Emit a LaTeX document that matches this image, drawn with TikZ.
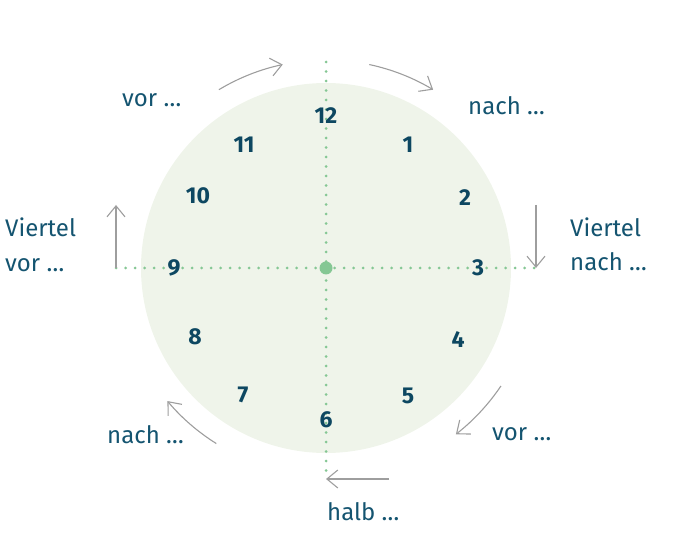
\documentclass[tikz,border=0pt]{standalone}
\usepackage{fontspec}
\setmainfont{Fira Sans}
\usepackage{tikz}
\usetikzlibrary{arrows.meta,calc,positioning}
\definecolor{clockface}{rgb}{0.937, 0.957, 0.918}
\definecolor{petrol}{rgb}{0.08, 0.33, 0.44}
\definecolor{deeppetrol}{rgb}{0.05, 0.28, 0.38}
\definecolor{mintdot}{rgb}{0.52, 0.78, 0.58}
\definecolor{arrowgray}{rgb}{0.62, 0.62, 0.62}
\tikzset{
  ziffer/.style={font=\fontsize{23}{26}\selectfont\bfseries, text=deeppetrol, inner sep=0pt},
  zeitwort/.style={font=\fontsize{24}{28}\selectfont, text=petrol, inner sep=0pt, anchor=base west},
  pfeil/.style={arrowgray, line width=1.1pt, -{Straight Barb[length=11pt,width=18pt]}},
  punkte/.style={mintdot, line width=3pt, line cap=round, dash pattern=on 0pt off 9.5pt}
}
\begin{document}
\begin{tikzpicture}[x=1pt,y=1pt]
        \useasboundingbox (0,0) rectangle (698,549);
        \coordinate (mitte) at (326,281);
        \fill[clockface] (mitte) circle (185);
        % dotted axes
        \coordinate (oben) at (326,487);
        \coordinate (unten) at (326,70);
        \coordinate (links) at (116,281);
        \coordinate (rechts) at (540,281);
        \draw[punkte] (oben) -- (unten);
        \draw[punkte] (links) -- (rechts);
        \fill[mintdot] (mitte) circle (6.5);
        % hours
        \node[ziffer] (h12) at (326,433) {12};
        \node[ziffer] (h1) at (408,404) {1};
        \node[ziffer] (h2) at (465,351) {2};
        \node[ziffer] (h3) at (478,281) {3};
        \node[ziffer] (h4) at (458,209) {4};
        \node[ziffer] (h5) at (408,153) {5};
        \node[ziffer] (h6) at (326,129) {6};
        \node[ziffer] (h7) at (243,154) {7};
        \node[ziffer] (h8) at (195,212) {8};
        \node[ziffer] (h9) at (174,281) {9};
        \node[ziffer] (h10) at (198,353) {10};
        \node[ziffer] (h11) at (244,404) {11};
        % labels
        \node[zeitwort] (vorOben) at (122,442) {vor …};
        \node[zeitwort] (nachOben) at (468,434) {nach …};
        \node[zeitwort] (viertelL) at (5,312) {Viertel};
        \node[zeitwort] (vorL) at (5,277) {vor …};
        \node[zeitwort] (viertelR) at (570,312) {Viertel};
        \node[zeitwort] (nachR) at (570,278) {nach …};
        \node[zeitwort] (nachUnten) at (107,106) {nach …};
        \node[zeitwort] (vorUnten) at (492,109) {vor …};
        \node[zeitwort] (halb) at (327,29) {halb …};
        % arrows
        \draw[pfeil] ($(mitte)+(121:208)$) arc[start angle=121, end angle=102, radius=208];
        \draw[pfeil] ($(mitte)+(78:208)$) arc[start angle=78, end angle=59, radius=208];
        \draw[pfeil] ($(mitte)+(-34:211)$) arc[start angle=-34, end angle=-52, radius=211];
        \draw[pfeil] ($(mitte)+(-122:207)$) arc[start angle=-122, end angle=-140, radius=207];
        \coordinate (pfeilL) at (116,344);
        \coordinate (pfeilR) at (536,344);
        \coordinate (pfeilRende) at (536,281);
        \coordinate (pfeilU) at (389,70);
        \draw[pfeil] (links) -- (pfeilL);
        \draw[pfeil] (pfeilR) -- (pfeilRende);
        \draw[pfeil] (pfeilU) -- (unten);
    \end{tikzpicture}
\end{document}
